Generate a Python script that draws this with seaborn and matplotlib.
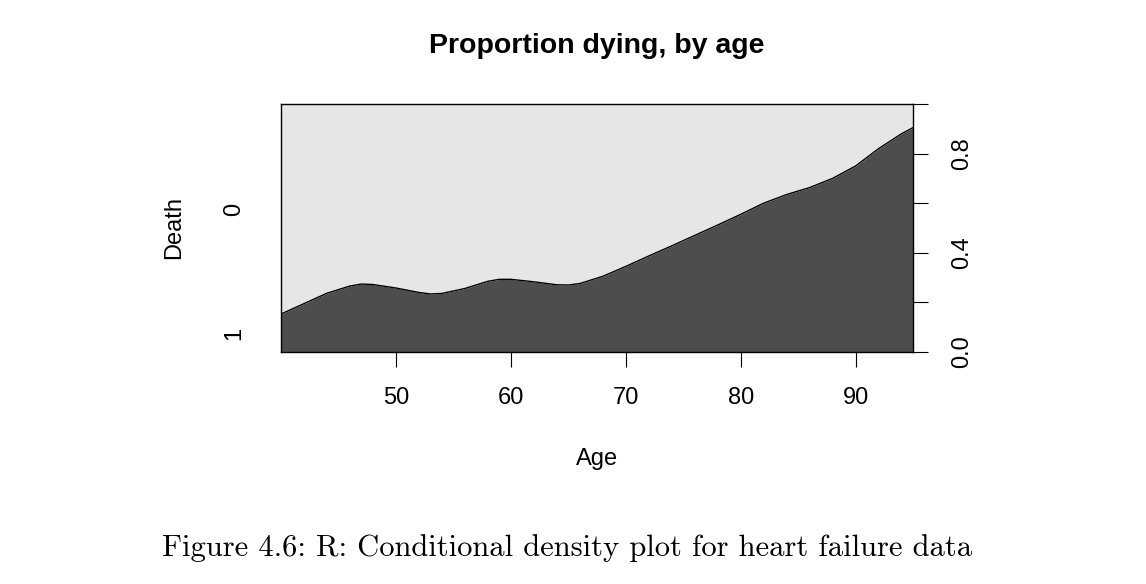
import numpy as np
import pandas as pd
import seaborn as sns
import matplotlib.pyplot as plt

# conditional proportion of Death == 1
age = [40, 42, 44, 46, 47, 48, 50, 52, 53, 54, 56, 58, 59, 60, 62, 64, 65, 66,
       68, 70, 72, 74, 76, 78, 80, 82, 84, 86, 88, 90, 92, 94, 95]
p_death = [0.153, 0.195, 0.237, 0.266, 0.274, 0.272, 0.258, 0.240, 0.234, 0.236,
           0.256, 0.285, 0.293, 0.293, 0.283, 0.271, 0.270, 0.276, 0.305, 0.345,
           0.387, 0.428, 0.470, 0.512, 0.555, 0.600, 0.635, 0.663, 0.700, 0.750,
           0.820, 0.880, 0.905]
x_ticks = [50, 60, 70, 80, 90]
right_ticks = [0.0, 0.2, 0.4, 0.6, 0.8, 1.0]
right_labels = ['0.0', '', '0.4', '', '0.8', '']
levels = ['1', '0']

df = pd.DataFrame({'Age': age, 'p': p_death})

sns.set_theme(style='ticks')
plt.rcParams['font.family'] = ['Liberation Sans', 'DejaVu Sans']
plt.rcParams['text.color'] = 'black'
plt.rcParams['axes.labelcolor'] = 'black'
plt.rcParams['xtick.color'] = 'black'
plt.rcParams['ytick.color'] = 'black'

fs = 17

fig = plt.figure(figsize=(11.46, 5.84), dpi=100)
ax = fig.add_axes([0.2452, 0.3973, 0.5515, 0.4246])

ax.fill_between(df['Age'], 0, df['p'], color='#4d4d4d', lw=0)
ax.fill_between(df['Age'], df['p'], 1, color='#e6e6e6', lw=0)
sns.lineplot(data=df, x='Age', y='p', color='black', lw=1, ax=ax)

ax.set_xlim(40, 95)
ax.set_ylim(0, 1)
for s in ax.spines.values():
    s.set_color('black')
    s.set_linewidth(1)
    s.set_visible(True)

ax.set_xticks(x_ticks)
ax.set_xticklabels([str(t) for t in x_ticks], fontsize=fs)
ax.tick_params(axis='x', length=10.8, width=0.8, color='black', pad=14.5, direction='out')

# left axis: category labels at middle of each band at the left edge
p0 = df['p'].iloc[0]
ax.set_yticks([p0 / 2, (p0 + 1) / 2])
ax.set_yticklabels(levels, fontsize=fs, rotation=90, va='center')
ax.tick_params(axis='y', length=0, pad=26)
ax.set_ylabel('Death', fontsize=fs, labelpad=27)
ax.set_xlabel('Age', fontsize=fs, labelpad=28)

ax2 = ax.twinx()
ax2.set_ylim(0, 1)
ax2.set_yticks(right_ticks)
ax2.set_yticklabels(right_labels, fontsize=fs, rotation=90, va='center')
ax2.tick_params(axis='y', length=10.8, width=0.8, color='black', pad=16.5, direction='out')
for s in ax2.spines.values():
    s.set_visible(False)

fig.text(0.521, 0.921, 'Proportion dying, by age', ha='center', va='center',
         fontsize=20.5, fontweight='bold')
fig.text(0.495, 0.062, 'Figure 4.6: R: Conditional density plot for heart failure data',
         ha='center', va='center', fontsize=22, family=['cmr10', 'DejaVu Serif'])

fig.savefig('out.png', dpi=100)
